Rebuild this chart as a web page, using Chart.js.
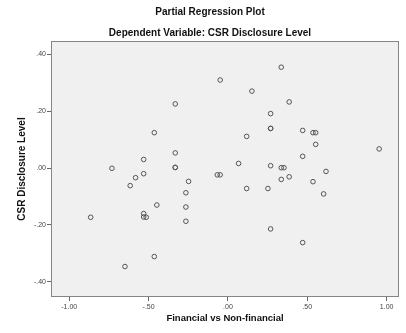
<!DOCTYPE html>
<html>
<head>
<meta charset="utf-8">
<script src="https://cdn.jsdelivr.net/npm/chart.js@4/dist/chart.umd.min.js"></script>
<style>
    body { margin: 0; background: #fff; }
    #wrap { width: 406px; height: 333px; }
</style>
</head>
<body>
<div id="wrap"><canvas id="plotChart" width="406" height="333"></canvas></div>
<script>
// Partial regression residuals
const xValues = [
    0.336, -0.049, 0.151, -0.332, 0.386, 0.269, 0.269, 0.269, -0.464, 0.471,
    0.536, 0.553, 0.118, 0.553, 0.953, -0.332, -0.531, 0.471, 0.067, 0.269,
    0.336, 0.353, -0.731, -0.332, -0.332, 0.618, -0.067, -0.049, -0.531, -0.582,
    -0.248, 0.386, 0.336, 0.536, -0.616, -0.265, 0.118, 0.252, 0.603, -0.448,
    -0.265, -0.865, -0.531, -0.531, -0.515, -0.265, 0.269, 0.471, -0.464, -0.649
];
const yValues = [
    0.354, 0.309, 0.270, 0.225, 0.232, 0.191, 0.139, 0.139, 0.124, 0.132,
    0.124, 0.124, 0.111, 0.083, 0.067, 0.053, 0.030, 0.041, 0.016, 0.008,
    0.001, 0.001, -0.001, 0.002, 0.002, -0.012, -0.024, -0.024, -0.020, -0.034,
    -0.047, -0.031, -0.040, -0.048, -0.062, -0.087, -0.072, -0.072, -0.091, -0.130,
    -0.137, -0.173, -0.160, -0.172, -0.173, -0.187, -0.214, -0.262, -0.311, -0.346
];
const xTicks = [-1, -0.5, 0, 0.5, 1];
const yTicks = [-0.4, -0.2, 0, 0.2, 0.4];

const titleText = 'Partial Regression Plot';
const subtitleText = 'Dependent Variable: CSR Disclosure Level';
const xLabel = 'Financial vs Non-financial';
const yLabel = 'CSR Disclosure Level';

// SPSS style labels: ".40", "-.50"
function spssFormat(v) {
    return Number(v).toFixed(2).replace(/^(-?)0\./, '$1.');
}

const points = xValues.map((x, i) => ({ x: x, y: yValues[i] }));

// gray plot area with a box round it, plus the two title lines
const frame = {
    id: 'frame',
    beforeDatasetsDraw(chart) {
        const a = chart.chartArea;
        const c = chart.ctx;
        c.save();
        c.fillStyle = '#f0f0f0';
        c.fillRect(a.left, a.top, a.right - a.left, a.bottom - a.top);
        c.strokeStyle = '#858585';
        c.lineWidth = 1;
        c.strokeRect(a.left + 0.5, a.top + 0.5, a.right - a.left - 1, a.bottom - a.top - 1);
        c.restore();
    },
    afterDraw(chart) {
        const c = chart.ctx;
        c.save();
        c.fillStyle = '#111';
        c.textAlign = 'center';
        c.textBaseline = 'middle';
        c.font = 'bold 10px "Liberation Sans", Arial, sans-serif';
        c.fillText(titleText, 210, 12);
        c.fillText(subtitleText, 210, 33);
        c.restore();
    }
};

const tickFont = { family: '"Liberation Sans", Arial, sans-serif', size: 7 };

const ctx = document.getElementById('plotChart').getContext('2d');
const plotChart = new Chart(ctx, {
    type: 'scatter',
    data: {
        datasets: [{
            data: points,
            pointRadius: 2.3,
            pointHoverRadius: 2.3,
            borderWidth: 1,
            borderColor: '#555',
            backgroundColor: 'rgba(0,0,0,0)'
        }]
    },
    plugins: [frame],
    options: {
        responsive: false,
        animation: false,
        events: [],
        layout: { padding: { top: 41, right: 7, left: 0, bottom: 0 } },
        plugins: {
            legend: { display: false },
            tooltip: { enabled: false }
        },
        scales: {
            x: {
                type: 'linear',
                min: -1.115,
                max: 1.078,
                afterFit: (scale) => { scale.height = 36; },
                afterBuildTicks: (scale) => { scale.ticks = xTicks.map(v => ({ value: v })); },
                border: { display: false },
                grid: { drawOnChartArea: false, tickLength: 4, color: '#666' },
                ticks: {
                    font: tickFont,
                    color: '#444',
                    padding: 2,
                    maxRotation: 0,
                    callback: (v) => spssFormat(v)
                },
                title: {
                    display: true,
                    text: xLabel,
                    color: '#111',
                    font: { family: '"Liberation Sans", Arial, sans-serif', size: 9.5, weight: 'bold' },
                    padding: { top: 0, bottom: 8.5 }
                }
            },
            y: {
                type: 'linear',
                min: -0.453,
                max: 0.446,
                afterFit: (scale) => { scale.width = 51; },
                afterBuildTicks: (scale) => { scale.ticks = yTicks.map(v => ({ value: v })); },
                border: { display: false },
                grid: { drawOnChartArea: false, tickLength: 4, color: '#666' },
                ticks: {
                    font: tickFont,
                    color: '#444',
                    padding: 1,
                    callback: (v) => spssFormat(v)
                },
                title: {
                    display: true,
                    text: yLabel,
                    color: '#111',
                    font: { family: '"Liberation Sans", Arial, sans-serif', size: 10, weight: 'bold' },
                    padding: { top: 16.5, bottom: 0 }
                }
            }
        }
    }
});
</script>
</body>
</html>
